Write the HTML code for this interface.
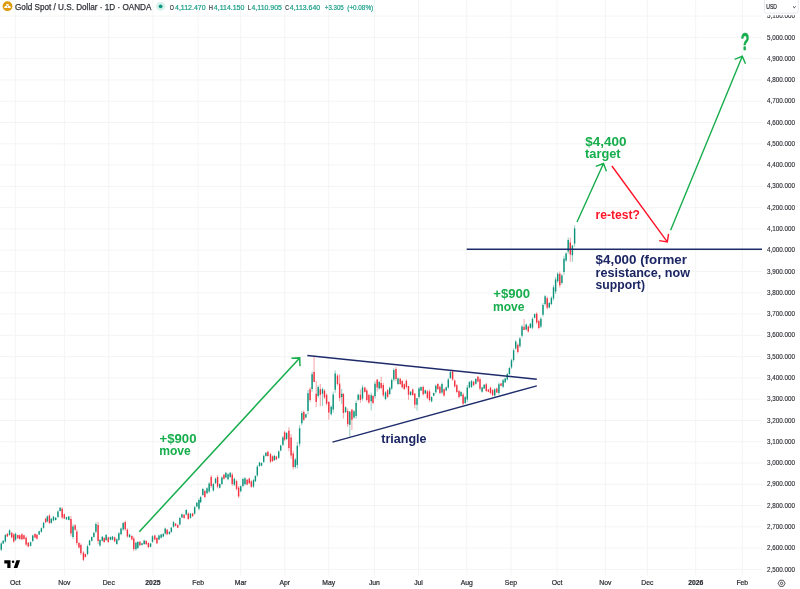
<!DOCTYPE html>
<html><head><meta charset="utf-8"><title>Gold Spot / U.S. Dollar</title>
<style>
html,body{margin:0;padding:0;background:#fff}
svg{display:block;font-family:"Liberation Sans",sans-serif}
</style></head><body>
<svg width="800" height="589" viewBox="0 0 800 589">
<rect width="800" height="589" fill="#fff"/>
<g stroke="#f3f5f4" stroke-width="1" fill="none">
<path d="M15.25 0V575.5"/>
<path d="M64.40 0V575.5"/>
<path d="M108.75 0V575.5"/>
<path d="M152.90 0V575.5"/>
<path d="M198.10 0V575.5"/>
<path d="M240.60 0V575.5"/>
<path d="M284.80 0V575.5"/>
<path d="M328.75 0V575.5"/>
<path d="M374.40 0V575.5"/>
<path d="M418.50 0V575.5"/>
<path d="M466.80 0V575.5"/>
<path d="M510.90 0V575.5"/>
<path d="M557.10 0V575.5"/>
<path d="M605.40 0V575.5"/>
<path d="M647.40 0V575.5"/>
<path d="M695.70 0V575.5"/>
<path d="M742.30 0V575.5"/>
<path d="M0 569.40H762"/>
<path d="M0 548.12H762"/>
<path d="M0 526.84H762"/>
<path d="M0 505.56H762"/>
<path d="M0 484.28H762"/>
<path d="M0 463.00H762"/>
<path d="M0 441.72H762"/>
<path d="M0 420.44H762"/>
<path d="M0 399.16H762"/>
<path d="M0 377.88H762"/>
<path d="M0 356.60H762"/>
<path d="M0 335.32H762"/>
<path d="M0 314.04H762"/>
<path d="M0 292.76H762"/>
<path d="M0 271.48H762"/>
<path d="M0 250.20H762"/>
<path d="M0 228.92H762"/>
<path d="M0 207.64H762"/>
<path d="M0 186.36H762"/>
<path d="M0 165.08H762"/>
<path d="M0 143.80H762"/>
<path d="M0 122.52H762"/>
<path d="M0 101.24H762"/>
<path d="M0 79.96H762"/>
<path d="M0 58.68H762"/>
<path d="M0 37.40H762"/>
<path d="M0 16.12H762"/>
</g>
<g id="candles" fill="none">
<path d="M1.27 542.1V551.1" stroke="#0c937b" stroke-width="0.9" opacity="0.5"/>
<path d="M1.27 543.4V549.8" stroke="#0c937b" stroke-width="1.4"/>
<path d="M3.18 540.2V544.0" stroke="#0c937b" stroke-width="0.9" opacity="0.5"/>
<path d="M3.18 540.8V543.5" stroke="#0c937b" stroke-width="1.4"/>
<path d="M5.35 533.9V542.8" stroke="#0c937b" stroke-width="0.9" opacity="0.5"/>
<path d="M5.35 535.1V541.5" stroke="#0c937b" stroke-width="1.4"/>
<path d="M7.39 533.2V537.0" stroke="#f2303f" stroke-width="0.9" opacity="0.5"/>
<path d="M7.39 533.8V536.5" stroke="#f2303f" stroke-width="1.4"/>
<path d="M9.55 529.4V535.8" stroke="#0c937b" stroke-width="0.9" opacity="0.5"/>
<path d="M9.55 530.3V534.9" stroke="#0c937b" stroke-width="1.4"/>
<path d="M11.72 531.9V538.3" stroke="#f2303f" stroke-width="0.9" opacity="0.5"/>
<path d="M11.72 532.8V537.4" stroke="#f2303f" stroke-width="1.4"/>
<path d="M13.76 533.2V542.8" stroke="#f2303f" stroke-width="0.9" opacity="0.5"/>
<path d="M13.76 534.6V541.4" stroke="#f2303f" stroke-width="1.4"/>
<path d="M15.54 532.6V540.9" stroke="#0c937b" stroke-width="0.9" opacity="0.5"/>
<path d="M15.54 533.7V539.7" stroke="#0c937b" stroke-width="1.4"/>
<path d="M17.83 534.5V538.9" stroke="#f2303f" stroke-width="0.9" opacity="0.5"/>
<path d="M17.83 535.1V538.3" stroke="#f2303f" stroke-width="1.4"/>
<path d="M19.75 534.5V539.6" stroke="#f2303f" stroke-width="0.9" opacity="0.5"/>
<path d="M19.75 535.2V538.9" stroke="#f2303f" stroke-width="1.4"/>
<path d="M21.91 533.2V540.2" stroke="#f2303f" stroke-width="0.9" opacity="0.5"/>
<path d="M21.91 534.2V539.2" stroke="#f2303f" stroke-width="1.4"/>
<path d="M23.95 534.5V539.6" stroke="#f2303f" stroke-width="0.9" opacity="0.5"/>
<path d="M23.95 535.2V538.9" stroke="#f2303f" stroke-width="1.4"/>
<path d="M26.11 536.4V546.0" stroke="#f2303f" stroke-width="0.9" opacity="0.5"/>
<path d="M26.11 537.7V544.6" stroke="#f2303f" stroke-width="1.4"/>
<path d="M28.28 542.1V547.2" stroke="#f2303f" stroke-width="0.9" opacity="0.5"/>
<path d="M28.28 542.8V546.5" stroke="#f2303f" stroke-width="1.4"/>
<path d="M30.57 541.5V546.6" stroke="#0c937b" stroke-width="0.9" opacity="0.5"/>
<path d="M30.57 542.2V545.9" stroke="#0c937b" stroke-width="1.4"/>
<path d="M32.74 534.5V542.1" stroke="#0c937b" stroke-width="0.9" opacity="0.5"/>
<path d="M32.74 535.6V541.1" stroke="#0c937b" stroke-width="1.4"/>
<path d="M35.03 533.2V538.3" stroke="#f2303f" stroke-width="0.9" opacity="0.5"/>
<path d="M35.03 533.9V537.6" stroke="#f2303f" stroke-width="1.4"/>
<path d="M36.94 533.9V539.6" stroke="#f2303f" stroke-width="0.9" opacity="0.5"/>
<path d="M36.94 534.7V538.8" stroke="#f2303f" stroke-width="1.4"/>
<path d="M39.11 530.7V535.1" stroke="#0c937b" stroke-width="0.9" opacity="0.5"/>
<path d="M39.11 531.3V534.5" stroke="#0c937b" stroke-width="1.4"/>
<path d="M41.40 527.5V532.6" stroke="#0c937b" stroke-width="0.9" opacity="0.5"/>
<path d="M41.40 528.2V531.9" stroke="#0c937b" stroke-width="1.4"/>
<path d="M43.57 521.8V528.8" stroke="#0c937b" stroke-width="0.9" opacity="0.5"/>
<path d="M43.57 522.7V527.8" stroke="#0c937b" stroke-width="1.4"/>
<path d="M45.61 517.9V523.0" stroke="#f2303f" stroke-width="0.9" opacity="0.5"/>
<path d="M45.61 518.6V522.3" stroke="#f2303f" stroke-width="1.4"/>
<path d="M47.39 515.4V522.4" stroke="#0c937b" stroke-width="0.9" opacity="0.5"/>
<path d="M47.39 516.4V521.4" stroke="#0c937b" stroke-width="1.4"/>
<path d="M49.43 514.1V524.3" stroke="#f2303f" stroke-width="0.9" opacity="0.5"/>
<path d="M49.43 515.5V522.9" stroke="#f2303f" stroke-width="1.4"/>
<path d="M51.34 517.9V523.7" stroke="#0c937b" stroke-width="0.9" opacity="0.5"/>
<path d="M51.34 518.7V522.9" stroke="#0c937b" stroke-width="1.4"/>
<path d="M53.50 516.0V521.1" stroke="#0c937b" stroke-width="0.9" opacity="0.5"/>
<path d="M53.50 516.7V520.4" stroke="#0c937b" stroke-width="1.4"/>
<path d="M55.67 517.3V520.5" stroke="#0c937b" stroke-width="0.9" opacity="0.5"/>
<path d="M55.67 517.7V520.0" stroke="#0c937b" stroke-width="1.4"/>
<path d="M57.96 510.3V517.9" stroke="#0c937b" stroke-width="0.9" opacity="0.5"/>
<path d="M57.96 511.4V516.9" stroke="#0c937b" stroke-width="1.4"/>
<path d="M60.13 507.1V511.6" stroke="#0c937b" stroke-width="0.9" opacity="0.5"/>
<path d="M60.13 507.7V510.9" stroke="#0c937b" stroke-width="1.4"/>
<path d="M62.17 507.1V519.2" stroke="#f2303f" stroke-width="0.9" opacity="0.5"/>
<path d="M62.17 508.8V517.5" stroke="#f2303f" stroke-width="1.4"/>
<path d="M64.33 513.5V519.2" stroke="#f2303f" stroke-width="0.9" opacity="0.5"/>
<path d="M64.33 514.3V518.4" stroke="#f2303f" stroke-width="1.4"/>
<path d="M66.50 516.7V519.8" stroke="#0c937b" stroke-width="0.9" opacity="0.5"/>
<path d="M66.50 517.1V519.4" stroke="#0c937b" stroke-width="1.4"/>
<path d="M68.79 516.0V520.5" stroke="#0c937b" stroke-width="0.9" opacity="0.5"/>
<path d="M68.79 516.6V519.9" stroke="#0c937b" stroke-width="1.4"/>
<path d="M70.96 516.0V536.4" stroke="#f2303f" stroke-width="0.9" opacity="0.5"/>
<path d="M70.96 518.9V533.5" stroke="#f2303f" stroke-width="1.4"/>
<path d="M72.99 524.3V538.9" stroke="#0c937b" stroke-width="0.9" opacity="0.5"/>
<path d="M72.99 526.4V536.9" stroke="#0c937b" stroke-width="1.4"/>
<path d="M75.16 524.3V530.7" stroke="#f2303f" stroke-width="0.9" opacity="0.5"/>
<path d="M75.16 525.2V529.8" stroke="#f2303f" stroke-width="1.4"/>
<path d="M76.82 529.4V545.3" stroke="#f2303f" stroke-width="0.9" opacity="0.5"/>
<path d="M76.82 531.6V543.1" stroke="#f2303f" stroke-width="1.4"/>
<path d="M78.98 542.1V548.5" stroke="#f2303f" stroke-width="0.9" opacity="0.5"/>
<path d="M78.98 543.0V547.6" stroke="#f2303f" stroke-width="1.4"/>
<path d="M80.89 543.4V554.9" stroke="#f2303f" stroke-width="0.9" opacity="0.5"/>
<path d="M80.89 545.0V553.3" stroke="#f2303f" stroke-width="1.4"/>
<path d="M83.44 551.1V561.2" stroke="#f2303f" stroke-width="0.9" opacity="0.5"/>
<path d="M83.44 552.5V559.8" stroke="#f2303f" stroke-width="1.4"/>
<path d="M85.35 553.6V557.4" stroke="#f2303f" stroke-width="0.9" opacity="0.5"/>
<path d="M85.35 554.1V556.9" stroke="#f2303f" stroke-width="1.4"/>
<path d="M87.52 544.7V555.5" stroke="#0c937b" stroke-width="0.9" opacity="0.5"/>
<path d="M87.52 546.2V554.0" stroke="#0c937b" stroke-width="1.4"/>
<path d="M89.55 539.6V546.0" stroke="#0c937b" stroke-width="0.9" opacity="0.5"/>
<path d="M89.55 540.5V545.1" stroke="#0c937b" stroke-width="1.4"/>
<path d="M91.72 536.4V541.5" stroke="#0c937b" stroke-width="0.9" opacity="0.5"/>
<path d="M91.72 537.1V540.8" stroke="#0c937b" stroke-width="1.4"/>
<path d="M93.89 531.9V537.7" stroke="#0c937b" stroke-width="0.9" opacity="0.5"/>
<path d="M93.89 532.7V536.9" stroke="#0c937b" stroke-width="1.4"/>
<path d="M95.92 522.4V533.2" stroke="#0c937b" stroke-width="0.9" opacity="0.5"/>
<path d="M95.92 523.9V531.7" stroke="#0c937b" stroke-width="1.4"/>
<path d="M98.09 521.8V544.0" stroke="#f2303f" stroke-width="0.9" opacity="0.5"/>
<path d="M98.09 524.9V540.9" stroke="#f2303f" stroke-width="1.4"/>
<path d="M100.00 538.9V546.6" stroke="#0c937b" stroke-width="0.9" opacity="0.5"/>
<path d="M100.00 540.0V545.5" stroke="#0c937b" stroke-width="1.4"/>
<path d="M102.29 535.9V541.6" stroke="#0c937b" stroke-width="0.9" opacity="0.5"/>
<path d="M102.29 536.7V540.8" stroke="#0c937b" stroke-width="1.4"/>
<path d="M104.20 537.1V542.9" stroke="#f2303f" stroke-width="0.9" opacity="0.5"/>
<path d="M104.20 537.9V542.1" stroke="#f2303f" stroke-width="1.4"/>
<path d="M106.11 533.9V541.0" stroke="#0c937b" stroke-width="0.9" opacity="0.5"/>
<path d="M106.11 534.9V540.0" stroke="#0c937b" stroke-width="1.4"/>
<path d="M108.28 536.5V542.9" stroke="#f2303f" stroke-width="0.9" opacity="0.5"/>
<path d="M108.28 537.4V542.0" stroke="#f2303f" stroke-width="1.4"/>
<path d="M110.45 536.5V540.3" stroke="#0c937b" stroke-width="0.9" opacity="0.5"/>
<path d="M110.45 537.0V539.8" stroke="#0c937b" stroke-width="1.4"/>
<path d="M112.48 535.9V540.3" stroke="#0c937b" stroke-width="0.9" opacity="0.5"/>
<path d="M112.48 536.5V539.7" stroke="#0c937b" stroke-width="1.4"/>
<path d="M114.65 536.5V542.2" stroke="#f2303f" stroke-width="0.9" opacity="0.5"/>
<path d="M114.65 537.3V541.4" stroke="#f2303f" stroke-width="1.4"/>
<path d="M116.82 538.4V544.8" stroke="#0c937b" stroke-width="0.9" opacity="0.5"/>
<path d="M116.82 539.3V543.9" stroke="#0c937b" stroke-width="1.4"/>
<path d="M118.85 532.0V541.0" stroke="#0c937b" stroke-width="0.9" opacity="0.5"/>
<path d="M118.85 533.3V539.7" stroke="#0c937b" stroke-width="1.4"/>
<path d="M121.02 527.6V535.2" stroke="#0c937b" stroke-width="0.9" opacity="0.5"/>
<path d="M121.02 528.6V534.2" stroke="#0c937b" stroke-width="1.4"/>
<path d="M123.18 521.8V530.8" stroke="#0c937b" stroke-width="0.9" opacity="0.5"/>
<path d="M123.18 523.1V529.5" stroke="#0c937b" stroke-width="1.4"/>
<path d="M125.22 520.6V530.8" stroke="#f2303f" stroke-width="0.9" opacity="0.5"/>
<path d="M125.22 522.0V529.3" stroke="#f2303f" stroke-width="1.4"/>
<path d="M127.39 528.2V537.8" stroke="#f2303f" stroke-width="0.9" opacity="0.5"/>
<path d="M127.39 529.6V536.4" stroke="#f2303f" stroke-width="1.4"/>
<path d="M129.55 533.9V537.8" stroke="#0c937b" stroke-width="0.9" opacity="0.5"/>
<path d="M129.55 534.5V537.2" stroke="#0c937b" stroke-width="1.4"/>
<path d="M131.85 535.2V540.3" stroke="#f2303f" stroke-width="0.9" opacity="0.5"/>
<path d="M131.85 535.9V539.6" stroke="#f2303f" stroke-width="1.4"/>
<path d="M133.76 536.5V551.1" stroke="#f2303f" stroke-width="0.9" opacity="0.5"/>
<path d="M133.76 538.5V549.1" stroke="#f2303f" stroke-width="1.4"/>
<path d="M135.92 541.6V550.5" stroke="#0c937b" stroke-width="0.9" opacity="0.5"/>
<path d="M135.92 542.8V549.3" stroke="#0c937b" stroke-width="1.4"/>
<path d="M137.83 541.0V549.2" stroke="#0c937b" stroke-width="0.9" opacity="0.5"/>
<path d="M137.83 542.1V548.1" stroke="#0c937b" stroke-width="1.4"/>
<path d="M139.87 541.0V546.1" stroke="#f2303f" stroke-width="0.9" opacity="0.5"/>
<path d="M139.87 541.7V545.3" stroke="#f2303f" stroke-width="1.4"/>
<path d="M142.04 542.9V545.4" stroke="#0c937b" stroke-width="0.9" opacity="0.5"/>
<path d="M142.04 543.2V545.1" stroke="#0c937b" stroke-width="1.4"/>
<path d="M144.20 539.7V544.8" stroke="#0c937b" stroke-width="0.9" opacity="0.5"/>
<path d="M144.20 540.4V544.1" stroke="#0c937b" stroke-width="1.4"/>
<path d="M146.24 540.3V544.8" stroke="#f2303f" stroke-width="0.9" opacity="0.5"/>
<path d="M146.24 540.9V544.2" stroke="#f2303f" stroke-width="1.4"/>
<path d="M148.41 542.2V548.0" stroke="#f2303f" stroke-width="0.9" opacity="0.5"/>
<path d="M148.41 543.0V547.2" stroke="#f2303f" stroke-width="1.4"/>
<path d="M150.57 542.9V547.3" stroke="#0c937b" stroke-width="0.9" opacity="0.5"/>
<path d="M150.57 543.5V546.7" stroke="#0c937b" stroke-width="1.4"/>
<path d="M152.48 535.2V542.9" stroke="#0c937b" stroke-width="0.9" opacity="0.5"/>
<path d="M152.48 536.3V541.8" stroke="#0c937b" stroke-width="1.4"/>
<path d="M154.78 534.6V540.3" stroke="#f2303f" stroke-width="0.9" opacity="0.5"/>
<path d="M154.78 535.4V539.5" stroke="#f2303f" stroke-width="1.4"/>
<path d="M156.94 537.1V544.1" stroke="#f2303f" stroke-width="0.9" opacity="0.5"/>
<path d="M156.94 538.1V543.2" stroke="#f2303f" stroke-width="1.4"/>
<path d="M158.98 534.6V540.3" stroke="#0c937b" stroke-width="0.9" opacity="0.5"/>
<path d="M158.98 535.4V539.5" stroke="#0c937b" stroke-width="1.4"/>
<path d="M161.15 533.9V538.4" stroke="#0c937b" stroke-width="0.9" opacity="0.5"/>
<path d="M161.15 534.6V537.8" stroke="#0c937b" stroke-width="1.4"/>
<path d="M163.31 533.3V537.1" stroke="#0c937b" stroke-width="0.9" opacity="0.5"/>
<path d="M163.31 533.8V536.6" stroke="#0c937b" stroke-width="1.4"/>
<path d="M165.22 527.6V534.6" stroke="#0c937b" stroke-width="0.9" opacity="0.5"/>
<path d="M165.22 528.6V533.6" stroke="#0c937b" stroke-width="1.4"/>
<path d="M167.13 528.9V535.2" stroke="#f2303f" stroke-width="0.9" opacity="0.5"/>
<path d="M167.13 529.7V534.3" stroke="#f2303f" stroke-width="1.4"/>
<path d="M169.43 531.4V534.6" stroke="#0c937b" stroke-width="0.9" opacity="0.5"/>
<path d="M169.43 531.8V534.1" stroke="#0c937b" stroke-width="1.4"/>
<path d="M171.34 526.9V532.7" stroke="#0c937b" stroke-width="0.9" opacity="0.5"/>
<path d="M171.34 527.7V531.9" stroke="#0c937b" stroke-width="1.4"/>
<path d="M173.50 521.2V527.6" stroke="#0c937b" stroke-width="0.9" opacity="0.5"/>
<path d="M173.50 522.1V526.7" stroke="#0c937b" stroke-width="1.4"/>
<path d="M175.54 523.1V526.3" stroke="#f2303f" stroke-width="0.9" opacity="0.5"/>
<path d="M175.54 523.6V525.9" stroke="#f2303f" stroke-width="1.4"/>
<path d="M177.71 524.4V528.2" stroke="#f2303f" stroke-width="0.9" opacity="0.5"/>
<path d="M177.71 524.9V527.7" stroke="#f2303f" stroke-width="1.4"/>
<path d="M179.87 516.8V525.7" stroke="#0c937b" stroke-width="0.9" opacity="0.5"/>
<path d="M179.87 518.0V524.4" stroke="#0c937b" stroke-width="1.4"/>
<path d="M181.91 513.6V518.0" stroke="#0c937b" stroke-width="0.9" opacity="0.5"/>
<path d="M181.91 514.2V517.4" stroke="#0c937b" stroke-width="1.4"/>
<path d="M184.08 514.2V518.7" stroke="#f2303f" stroke-width="0.9" opacity="0.5"/>
<path d="M184.08 514.8V518.0" stroke="#f2303f" stroke-width="1.4"/>
<path d="M186.24 509.1V515.5" stroke="#0c937b" stroke-width="0.9" opacity="0.5"/>
<path d="M186.24 510.0V514.6" stroke="#0c937b" stroke-width="1.4"/>
<path d="M188.28 512.3V519.9" stroke="#f2303f" stroke-width="0.9" opacity="0.5"/>
<path d="M188.28 513.4V518.9" stroke="#f2303f" stroke-width="1.4"/>
<path d="M190.45 512.9V518.7" stroke="#0c937b" stroke-width="0.9" opacity="0.5"/>
<path d="M190.45 513.7V517.9" stroke="#0c937b" stroke-width="1.4"/>
<path d="M192.61 512.9V516.8" stroke="#f2303f" stroke-width="0.9" opacity="0.5"/>
<path d="M192.61 513.5V516.2" stroke="#f2303f" stroke-width="1.4"/>
<path d="M194.65 505.9V514.8" stroke="#0c937b" stroke-width="0.9" opacity="0.5"/>
<path d="M194.65 507.2V513.6" stroke="#0c937b" stroke-width="1.4"/>
<path d="M196.82 502.1V507.2" stroke="#0c937b" stroke-width="0.9" opacity="0.5"/>
<path d="M196.82 502.8V506.5" stroke="#0c937b" stroke-width="1.4"/>
<path d="M198.98 498.3V510.4" stroke="#0c937b" stroke-width="0.9" opacity="0.5"/>
<path d="M198.98 500.0V508.7" stroke="#0c937b" stroke-width="1.4"/>
<path d="M200.64 496.1V503.2" stroke="#0c937b" stroke-width="0.9" opacity="0.5"/>
<path d="M200.64 497.1V502.2" stroke="#0c937b" stroke-width="1.4"/>
<path d="M202.80 487.9V496.1" stroke="#0c937b" stroke-width="0.9" opacity="0.5"/>
<path d="M202.80 489.0V495.0" stroke="#0c937b" stroke-width="1.4"/>
<path d="M204.84 489.8V498.1" stroke="#f2303f" stroke-width="0.9" opacity="0.5"/>
<path d="M204.84 490.9V496.9" stroke="#f2303f" stroke-width="1.4"/>
<path d="M207.01 487.2V494.2" stroke="#0c937b" stroke-width="0.9" opacity="0.5"/>
<path d="M207.01 488.2V493.3" stroke="#0c937b" stroke-width="1.4"/>
<path d="M209.17 482.1V493.0" stroke="#0c937b" stroke-width="0.9" opacity="0.5"/>
<path d="M209.17 483.6V491.4" stroke="#0c937b" stroke-width="1.4"/>
<path d="M211.21 475.1V487.9" stroke="#f2303f" stroke-width="0.9" opacity="0.5"/>
<path d="M211.21 476.9V486.1" stroke="#f2303f" stroke-width="1.4"/>
<path d="M213.38 482.8V491.7" stroke="#0c937b" stroke-width="0.9" opacity="0.5"/>
<path d="M213.38 484.0V490.4" stroke="#0c937b" stroke-width="1.4"/>
<path d="M215.54 477.7V484.0" stroke="#0c937b" stroke-width="0.9" opacity="0.5"/>
<path d="M215.54 478.6V483.2" stroke="#0c937b" stroke-width="1.4"/>
<path d="M217.58 475.1V488.5" stroke="#f2303f" stroke-width="0.9" opacity="0.5"/>
<path d="M217.58 477.0V486.6" stroke="#f2303f" stroke-width="1.4"/>
<path d="M219.75 483.4V488.5" stroke="#0c937b" stroke-width="0.9" opacity="0.5"/>
<path d="M219.75 484.1V487.8" stroke="#0c937b" stroke-width="1.4"/>
<path d="M221.91 476.4V485.3" stroke="#0c937b" stroke-width="0.9" opacity="0.5"/>
<path d="M221.91 477.6V484.1" stroke="#0c937b" stroke-width="1.4"/>
<path d="M223.95 473.9V479.6" stroke="#f2303f" stroke-width="0.9" opacity="0.5"/>
<path d="M223.95 474.7V478.8" stroke="#f2303f" stroke-width="1.4"/>
<path d="M225.86 471.9V478.3" stroke="#0c937b" stroke-width="0.9" opacity="0.5"/>
<path d="M225.86 472.8V477.4" stroke="#0c937b" stroke-width="1.4"/>
<path d="M228.03 473.2V480.2" stroke="#0c937b" stroke-width="0.9" opacity="0.5"/>
<path d="M228.03 474.2V479.2" stroke="#0c937b" stroke-width="1.4"/>
<path d="M230.19 471.9V477.7" stroke="#0c937b" stroke-width="0.9" opacity="0.5"/>
<path d="M230.19 472.7V476.9" stroke="#0c937b" stroke-width="1.4"/>
<path d="M232.23 472.6V486.0" stroke="#f2303f" stroke-width="0.9" opacity="0.5"/>
<path d="M232.23 474.5V484.1" stroke="#f2303f" stroke-width="1.4"/>
<path d="M234.39 477.7V486.0" stroke="#0c937b" stroke-width="0.9" opacity="0.5"/>
<path d="M234.39 478.8V484.8" stroke="#0c937b" stroke-width="1.4"/>
<path d="M236.56 479.6V490.4" stroke="#f2303f" stroke-width="0.9" opacity="0.5"/>
<path d="M236.56 481.1V488.9" stroke="#f2303f" stroke-width="1.4"/>
<path d="M238.60 486.0V498.1" stroke="#f2303f" stroke-width="0.9" opacity="0.5"/>
<path d="M238.60 487.6V496.4" stroke="#f2303f" stroke-width="1.4"/>
<path d="M240.76 485.3V492.3" stroke="#0c937b" stroke-width="0.9" opacity="0.5"/>
<path d="M240.76 486.3V491.3" stroke="#0c937b" stroke-width="1.4"/>
<path d="M242.93 477.7V487.2" stroke="#0c937b" stroke-width="0.9" opacity="0.5"/>
<path d="M242.93 479.0V485.9" stroke="#0c937b" stroke-width="1.4"/>
<path d="M244.97 477.0V485.3" stroke="#0c937b" stroke-width="0.9" opacity="0.5"/>
<path d="M244.97 478.2V484.2" stroke="#0c937b" stroke-width="1.4"/>
<path d="M247.13 478.9V485.3" stroke="#f2303f" stroke-width="0.9" opacity="0.5"/>
<path d="M247.13 479.8V484.4" stroke="#f2303f" stroke-width="1.4"/>
<path d="M249.30 477.7V484.0" stroke="#f2303f" stroke-width="0.9" opacity="0.5"/>
<path d="M249.30 478.6V483.2" stroke="#f2303f" stroke-width="1.4"/>
<path d="M251.34 480.2V487.9" stroke="#f2303f" stroke-width="0.9" opacity="0.5"/>
<path d="M251.34 481.3V486.8" stroke="#f2303f" stroke-width="1.4"/>
<path d="M253.50 478.9V487.9" stroke="#0c937b" stroke-width="0.9" opacity="0.5"/>
<path d="M253.50 480.2V486.6" stroke="#0c937b" stroke-width="1.4"/>
<path d="M255.41 475.1V482.1" stroke="#0c937b" stroke-width="0.9" opacity="0.5"/>
<path d="M255.41 476.1V481.2" stroke="#0c937b" stroke-width="1.4"/>
<path d="M257.32 464.9V477.0" stroke="#0c937b" stroke-width="0.9" opacity="0.5"/>
<path d="M257.32 466.6V475.3" stroke="#0c937b" stroke-width="1.4"/>
<path d="M259.49 461.8V466.8" stroke="#0c937b" stroke-width="0.9" opacity="0.5"/>
<path d="M259.49 462.5V466.1" stroke="#0c937b" stroke-width="1.4"/>
<path d="M261.53 462.4V466.2" stroke="#0c937b" stroke-width="0.9" opacity="0.5"/>
<path d="M261.53 462.9V465.7" stroke="#0c937b" stroke-width="1.4"/>
<path d="M263.69 454.7V463.0" stroke="#0c937b" stroke-width="0.9" opacity="0.5"/>
<path d="M263.69 455.9V461.9" stroke="#0c937b" stroke-width="1.4"/>
<path d="M265.86 452.2V456.7" stroke="#0c937b" stroke-width="0.9" opacity="0.5"/>
<path d="M265.86 452.8V456.0" stroke="#0c937b" stroke-width="1.4"/>
<path d="M267.90 450.9V456.7" stroke="#f2303f" stroke-width="0.9" opacity="0.5"/>
<path d="M267.90 451.7V455.9" stroke="#f2303f" stroke-width="1.4"/>
<path d="M270.50 452.8V463.0" stroke="#f2303f" stroke-width="0.9" opacity="0.5"/>
<path d="M270.50 454.2V461.6" stroke="#f2303f" stroke-width="1.4"/>
<path d="M272.50 455.4V462.0" stroke="#f2303f" stroke-width="0.9" opacity="0.5"/>
<path d="M272.50 456.3V461.1" stroke="#f2303f" stroke-width="1.4"/>
<path d="M274.40 454.9V461.0" stroke="#0c937b" stroke-width="0.9" opacity="0.5"/>
<path d="M274.40 455.8V460.1" stroke="#0c937b" stroke-width="1.4"/>
<path d="M276.40 455.9V460.0" stroke="#f2303f" stroke-width="0.9" opacity="0.5"/>
<path d="M276.40 456.5V459.4" stroke="#f2303f" stroke-width="1.4"/>
<path d="M278.70 450.3V458.9" stroke="#0c937b" stroke-width="0.9" opacity="0.5"/>
<path d="M278.70 451.5V457.7" stroke="#0c937b" stroke-width="1.4"/>
<path d="M280.70 444.7V451.3" stroke="#0c937b" stroke-width="0.9" opacity="0.5"/>
<path d="M280.70 445.6V450.4" stroke="#0c937b" stroke-width="1.4"/>
<path d="M282.90 436.0V446.2" stroke="#0c937b" stroke-width="0.9" opacity="0.5"/>
<path d="M282.90 437.4V444.8" stroke="#0c937b" stroke-width="1.4"/>
<path d="M284.60 430.9V441.1" stroke="#f2303f" stroke-width="0.9" opacity="0.5"/>
<path d="M284.60 432.3V439.7" stroke="#f2303f" stroke-width="1.4"/>
<path d="M286.60 431.9V440.1" stroke="#0c937b" stroke-width="0.9" opacity="0.5"/>
<path d="M286.60 433.0V439.0" stroke="#0c937b" stroke-width="1.4"/>
<path d="M288.90 427.3V451.3" stroke="#f2303f" stroke-width="0.9" opacity="0.5"/>
<path d="M288.90 430.7V447.9" stroke="#f2303f" stroke-width="1.4"/>
<path d="M291.10 434.0V458.9" stroke="#f2303f" stroke-width="0.9" opacity="0.5"/>
<path d="M291.10 437.5V455.4" stroke="#f2303f" stroke-width="1.4"/>
<path d="M293.20 450.8V469.6" stroke="#f2303f" stroke-width="0.9" opacity="0.5"/>
<path d="M293.20 453.4V467.0" stroke="#f2303f" stroke-width="1.4"/>
<path d="M295.30 457.9V468.6" stroke="#0c937b" stroke-width="0.9" opacity="0.5"/>
<path d="M295.30 459.4V467.1" stroke="#0c937b" stroke-width="1.4"/>
<path d="M297.30 442.1V468.6" stroke="#0c937b" stroke-width="0.9" opacity="0.5"/>
<path d="M297.30 445.8V464.9" stroke="#0c937b" stroke-width="1.4"/>
<path d="M299.60 425.3V446.7" stroke="#0c937b" stroke-width="0.9" opacity="0.5"/>
<path d="M299.60 428.3V443.7" stroke="#0c937b" stroke-width="1.4"/>
<path d="M301.80 411.0V425.3" stroke="#0c937b" stroke-width="0.9" opacity="0.5"/>
<path d="M301.80 413.0V423.3" stroke="#0c937b" stroke-width="1.4"/>
<path d="M303.80 410.5V421.2" stroke="#f2303f" stroke-width="0.9" opacity="0.5"/>
<path d="M303.80 412.0V419.7" stroke="#f2303f" stroke-width="1.4"/>
<path d="M305.90 413.6V418.2" stroke="#0c937b" stroke-width="0.9" opacity="0.5"/>
<path d="M305.90 414.2V417.6" stroke="#0c937b" stroke-width="1.4"/>
<path d="M308.00 389.8V414.6" stroke="#0c937b" stroke-width="0.9" opacity="0.5"/>
<path d="M308.00 393.3V411.1" stroke="#0c937b" stroke-width="1.4"/>
<path d="M310.10 387.2V402.0" stroke="#f2303f" stroke-width="0.9" opacity="0.5"/>
<path d="M310.10 389.3V399.9" stroke="#f2303f" stroke-width="1.4"/>
<path d="M312.10 371.4V391.8" stroke="#0c937b" stroke-width="0.9" opacity="0.5"/>
<path d="M312.10 374.3V388.9" stroke="#0c937b" stroke-width="1.4"/>
<path d="M314.10 356.6V382.1" stroke="#f2303f" stroke-width="0.9" opacity="0.5"/>
<path d="M314.10 371.9V382.1" stroke="#f2303f" stroke-width="1.4"/>
<path d="M316.20 381.0V406.9" stroke="#f2303f" stroke-width="0.9" opacity="0.5"/>
<path d="M316.20 393.8V402.0" stroke="#f2303f" stroke-width="1.4"/>
<path d="M318.20 385.2V397.9" stroke="#0c937b" stroke-width="0.9" opacity="0.5"/>
<path d="M318.20 387.0V396.1" stroke="#0c937b" stroke-width="1.4"/>
<path d="M320.30 384.0V406.4" stroke="#f2303f" stroke-width="0.9" opacity="0.5"/>
<path d="M320.30 389.2V394.8" stroke="#f2303f" stroke-width="1.4"/>
<path d="M322.50 387.7V405.9" stroke="#0c937b" stroke-width="0.9" opacity="0.5"/>
<path d="M322.50 389.2V393.8" stroke="#0c937b" stroke-width="1.4"/>
<path d="M324.50 389.2V398.9" stroke="#f2303f" stroke-width="0.9" opacity="0.5"/>
<path d="M324.50 390.6V397.5" stroke="#f2303f" stroke-width="1.4"/>
<path d="M326.60 393.2V405.4" stroke="#f2303f" stroke-width="0.9" opacity="0.5"/>
<path d="M326.60 394.9V403.7" stroke="#f2303f" stroke-width="1.4"/>
<path d="M328.80 401.8V419.7" stroke="#f2303f" stroke-width="0.9" opacity="0.5"/>
<path d="M328.80 401.8V412.5" stroke="#f2303f" stroke-width="1.4"/>
<path d="M331.20 405.4V415.6" stroke="#0c937b" stroke-width="0.9" opacity="0.5"/>
<path d="M331.20 406.8V414.2" stroke="#0c937b" stroke-width="1.4"/>
<path d="M333.20 391.6V412.5" stroke="#0c937b" stroke-width="0.9" opacity="0.5"/>
<path d="M333.20 394.5V409.6" stroke="#0c937b" stroke-width="1.4"/>
<path d="M335.20 370.4V392.8" stroke="#0c937b" stroke-width="0.9" opacity="0.5"/>
<path d="M335.20 373.5V389.7" stroke="#0c937b" stroke-width="1.4"/>
<path d="M337.50 374.0V385.7" stroke="#f2303f" stroke-width="0.9" opacity="0.5"/>
<path d="M337.50 375.6V384.1" stroke="#f2303f" stroke-width="1.4"/>
<path d="M339.60 374.5V401.3" stroke="#f2303f" stroke-width="0.9" opacity="0.5"/>
<path d="M339.60 383.6V398.0" stroke="#f2303f" stroke-width="1.4"/>
<path d="M341.70 389.0V403.9" stroke="#0c937b" stroke-width="0.9" opacity="0.5"/>
<path d="M341.70 393.8V397.0" stroke="#0c937b" stroke-width="1.4"/>
<path d="M343.40 393.7V418.6" stroke="#f2303f" stroke-width="0.9" opacity="0.5"/>
<path d="M343.40 393.7V413.0" stroke="#f2303f" stroke-width="1.4"/>
<path d="M345.60 406.4V413.0" stroke="#0c937b" stroke-width="0.9" opacity="0.5"/>
<path d="M345.60 407.3V412.1" stroke="#0c937b" stroke-width="1.4"/>
<path d="M347.70 408.4V426.8" stroke="#f2303f" stroke-width="0.9" opacity="0.5"/>
<path d="M347.70 411.0V424.2" stroke="#f2303f" stroke-width="1.4"/>
<path d="M349.80 411.5V436.5" stroke="#0c937b" stroke-width="0.9" opacity="0.5"/>
<path d="M349.80 411.5V424.8" stroke="#0c937b" stroke-width="1.4"/>
<path d="M351.90 409.5V429.9" stroke="#f2303f" stroke-width="0.9" opacity="0.5"/>
<path d="M351.90 409.5V419.7" stroke="#f2303f" stroke-width="1.4"/>
<path d="M354.00 410.0V418.6" stroke="#0c937b" stroke-width="0.9" opacity="0.5"/>
<path d="M354.00 411.2V417.4" stroke="#0c937b" stroke-width="1.4"/>
<path d="M356.10 400.3V418.6" stroke="#0c937b" stroke-width="0.9" opacity="0.5"/>
<path d="M356.10 402.9V416.0" stroke="#0c937b" stroke-width="1.4"/>
<path d="M358.20 393.7V400.8" stroke="#0c937b" stroke-width="0.9" opacity="0.5"/>
<path d="M358.20 394.7V399.8" stroke="#0c937b" stroke-width="1.4"/>
<path d="M360.40 389.4V402.8" stroke="#f2303f" stroke-width="0.9" opacity="0.5"/>
<path d="M360.40 394.8V400.0" stroke="#f2303f" stroke-width="1.4"/>
<path d="M362.50 385.2V400.8" stroke="#0c937b" stroke-width="0.9" opacity="0.5"/>
<path d="M362.50 387.4V398.6" stroke="#0c937b" stroke-width="1.4"/>
<path d="M364.80 386.7V392.8" stroke="#f2303f" stroke-width="0.9" opacity="0.5"/>
<path d="M364.80 387.6V391.9" stroke="#f2303f" stroke-width="1.4"/>
<path d="M366.80 388.7V401.8" stroke="#f2303f" stroke-width="0.9" opacity="0.5"/>
<path d="M366.80 390.5V400.0" stroke="#f2303f" stroke-width="1.4"/>
<path d="M368.90 393.7V403.9" stroke="#f2303f" stroke-width="0.9" opacity="0.5"/>
<path d="M368.90 395.1V402.5" stroke="#f2303f" stroke-width="1.4"/>
<path d="M371.20 392.6V410.5" stroke="#0c937b" stroke-width="0.9" opacity="0.5"/>
<path d="M371.20 395.2V401.3" stroke="#0c937b" stroke-width="1.4"/>
<path d="M373.00 394.7V404.3" stroke="#f2303f" stroke-width="0.9" opacity="0.5"/>
<path d="M373.00 396.0V403.0" stroke="#f2303f" stroke-width="1.4"/>
<path d="M375.00 381.4V398.7" stroke="#0c937b" stroke-width="0.9" opacity="0.5"/>
<path d="M375.00 383.8V396.3" stroke="#0c937b" stroke-width="1.4"/>
<path d="M377.20 379.4V391.6" stroke="#f2303f" stroke-width="0.9" opacity="0.5"/>
<path d="M377.20 379.4V387.5" stroke="#f2303f" stroke-width="1.4"/>
<path d="M379.20 380.9V389.6" stroke="#0c937b" stroke-width="0.9" opacity="0.5"/>
<path d="M379.20 382.1V388.4" stroke="#0c937b" stroke-width="1.4"/>
<path d="M381.20 376.8V389.6" stroke="#f2303f" stroke-width="0.9" opacity="0.5"/>
<path d="M381.20 382.9V388.0" stroke="#f2303f" stroke-width="1.4"/>
<path d="M383.30 382.9V397.2" stroke="#f2303f" stroke-width="0.9" opacity="0.5"/>
<path d="M383.30 384.9V395.2" stroke="#f2303f" stroke-width="1.4"/>
<path d="M385.50 391.1V400.3" stroke="#0c937b" stroke-width="0.9" opacity="0.5"/>
<path d="M385.50 392.4V399.0" stroke="#0c937b" stroke-width="1.4"/>
<path d="M387.60 389.0V398.2" stroke="#f2303f" stroke-width="0.9" opacity="0.5"/>
<path d="M387.60 390.3V396.9" stroke="#f2303f" stroke-width="1.4"/>
<path d="M389.70 386.5V395.2" stroke="#0c937b" stroke-width="0.9" opacity="0.5"/>
<path d="M389.70 387.7V394.0" stroke="#0c937b" stroke-width="1.4"/>
<path d="M391.70 378.3V390.0" stroke="#0c937b" stroke-width="0.9" opacity="0.5"/>
<path d="M391.70 379.9V388.4" stroke="#0c937b" stroke-width="1.4"/>
<path d="M393.80 368.2V381.4" stroke="#0c937b" stroke-width="0.9" opacity="0.5"/>
<path d="M393.80 370.0V379.6" stroke="#0c937b" stroke-width="1.4"/>
<path d="M396.00 367.1V380.9" stroke="#f2303f" stroke-width="0.9" opacity="0.5"/>
<path d="M396.00 369.0V379.0" stroke="#f2303f" stroke-width="1.4"/>
<path d="M398.00 377.3V385.0" stroke="#0c937b" stroke-width="0.9" opacity="0.5"/>
<path d="M398.00 378.4V383.9" stroke="#0c937b" stroke-width="1.4"/>
<path d="M400.20 377.8V385.0" stroke="#f2303f" stroke-width="0.9" opacity="0.5"/>
<path d="M400.20 378.8V384.0" stroke="#f2303f" stroke-width="1.4"/>
<path d="M402.20 379.9V388.5" stroke="#f2303f" stroke-width="0.9" opacity="0.5"/>
<path d="M402.20 381.1V387.3" stroke="#f2303f" stroke-width="1.4"/>
<path d="M404.30 383.4V390.0" stroke="#f2303f" stroke-width="0.9" opacity="0.5"/>
<path d="M404.30 384.3V389.1" stroke="#f2303f" stroke-width="1.4"/>
<path d="M406.40 379.4V388.5" stroke="#f2303f" stroke-width="0.9" opacity="0.5"/>
<path d="M406.40 380.7V387.2" stroke="#f2303f" stroke-width="1.4"/>
<path d="M408.50 386.0V399.8" stroke="#f2303f" stroke-width="0.9" opacity="0.5"/>
<path d="M408.50 386.0V394.7" stroke="#f2303f" stroke-width="1.4"/>
<path d="M410.60 391.0V395.7" stroke="#0c937b" stroke-width="0.9" opacity="0.5"/>
<path d="M410.60 391.7V395.0" stroke="#0c937b" stroke-width="1.4"/>
<path d="M412.70 388.5V396.2" stroke="#f2303f" stroke-width="0.9" opacity="0.5"/>
<path d="M412.70 389.6V395.1" stroke="#f2303f" stroke-width="1.4"/>
<path d="M414.80 393.6V408.4" stroke="#f2303f" stroke-width="0.9" opacity="0.5"/>
<path d="M414.80 393.6V404.8" stroke="#f2303f" stroke-width="1.4"/>
<path d="M417.00 398.2V410.5" stroke="#0c937b" stroke-width="0.9" opacity="0.5"/>
<path d="M417.00 398.2V404.8" stroke="#0c937b" stroke-width="1.4"/>
<path d="M419.00 387.0V398.7" stroke="#0c937b" stroke-width="0.9" opacity="0.5"/>
<path d="M419.00 388.6V397.1" stroke="#0c937b" stroke-width="1.4"/>
<path d="M421.00 386.5V391.1" stroke="#0c937b" stroke-width="0.9" opacity="0.5"/>
<path d="M421.00 387.1V390.5" stroke="#0c937b" stroke-width="1.4"/>
<path d="M423.20 385.5V395.7" stroke="#f2303f" stroke-width="0.9" opacity="0.5"/>
<path d="M423.20 386.9V394.3" stroke="#f2303f" stroke-width="1.4"/>
<path d="M425.30 389.6V394.1" stroke="#0c937b" stroke-width="0.9" opacity="0.5"/>
<path d="M425.30 390.2V393.5" stroke="#0c937b" stroke-width="1.4"/>
<path d="M427.40 390.0V399.2" stroke="#f2303f" stroke-width="0.9" opacity="0.5"/>
<path d="M427.40 391.3V397.9" stroke="#f2303f" stroke-width="1.4"/>
<path d="M429.50 389.6V401.8" stroke="#f2303f" stroke-width="0.9" opacity="0.5"/>
<path d="M429.50 391.3V400.1" stroke="#f2303f" stroke-width="1.4"/>
<path d="M431.60 396.2V402.3" stroke="#0c937b" stroke-width="0.9" opacity="0.5"/>
<path d="M431.60 397.1V401.4" stroke="#0c937b" stroke-width="1.4"/>
<path d="M433.70 392.6V396.2" stroke="#0c937b" stroke-width="0.9" opacity="0.5"/>
<path d="M433.70 393.1V395.7" stroke="#0c937b" stroke-width="1.4"/>
<path d="M435.80 384.5V393.6" stroke="#0c937b" stroke-width="0.9" opacity="0.5"/>
<path d="M435.80 385.8V392.3" stroke="#0c937b" stroke-width="1.4"/>
<path d="M437.80 382.9V390.0" stroke="#f2303f" stroke-width="0.9" opacity="0.5"/>
<path d="M437.80 383.9V389.0" stroke="#f2303f" stroke-width="1.4"/>
<path d="M439.90 385.5V394.1" stroke="#f2303f" stroke-width="0.9" opacity="0.5"/>
<path d="M439.90 386.7V392.9" stroke="#f2303f" stroke-width="1.4"/>
<path d="M442.00 382.5V394.2" stroke="#0c937b" stroke-width="0.9" opacity="0.5"/>
<path d="M442.00 384.1V392.6" stroke="#0c937b" stroke-width="1.4"/>
<path d="M444.10 388.1V396.8" stroke="#f2303f" stroke-width="0.9" opacity="0.5"/>
<path d="M444.10 389.3V395.6" stroke="#f2303f" stroke-width="1.4"/>
<path d="M446.20 386.6V391.2" stroke="#0c937b" stroke-width="0.9" opacity="0.5"/>
<path d="M446.20 387.2V390.6" stroke="#0c937b" stroke-width="1.4"/>
<path d="M448.30 377.9V389.1" stroke="#0c937b" stroke-width="0.9" opacity="0.5"/>
<path d="M448.30 379.5V387.5" stroke="#0c937b" stroke-width="1.4"/>
<path d="M450.40 370.8V379.0" stroke="#0c937b" stroke-width="0.9" opacity="0.5"/>
<path d="M450.40 371.9V377.9" stroke="#0c937b" stroke-width="1.4"/>
<path d="M452.60 369.8V381.0" stroke="#f2303f" stroke-width="0.9" opacity="0.5"/>
<path d="M452.60 371.4V379.4" stroke="#f2303f" stroke-width="1.4"/>
<path d="M454.70 379.5V387.6" stroke="#f2303f" stroke-width="0.9" opacity="0.5"/>
<path d="M454.70 380.6V386.5" stroke="#f2303f" stroke-width="1.4"/>
<path d="M456.80 384.0V393.2" stroke="#f2303f" stroke-width="0.9" opacity="0.5"/>
<path d="M456.80 385.3V391.9" stroke="#f2303f" stroke-width="1.4"/>
<path d="M459.00 389.7V398.3" stroke="#f2303f" stroke-width="0.9" opacity="0.5"/>
<path d="M459.00 390.9V397.1" stroke="#f2303f" stroke-width="1.4"/>
<path d="M461.00 391.2V396.8" stroke="#0c937b" stroke-width="0.9" opacity="0.5"/>
<path d="M461.00 392.0V396.0" stroke="#0c937b" stroke-width="1.4"/>
<path d="M463.10 392.7V405.5" stroke="#f2303f" stroke-width="0.9" opacity="0.5"/>
<path d="M463.10 394.5V403.7" stroke="#f2303f" stroke-width="1.4"/>
<path d="M465.20 395.8V404.0" stroke="#0c937b" stroke-width="0.9" opacity="0.5"/>
<path d="M465.20 396.9V402.9" stroke="#0c937b" stroke-width="1.4"/>
<path d="M467.30 385.0V401.9" stroke="#0c937b" stroke-width="0.9" opacity="0.5"/>
<path d="M467.30 387.4V399.5" stroke="#0c937b" stroke-width="1.4"/>
<path d="M469.40 381.0V388.6" stroke="#0c937b" stroke-width="0.9" opacity="0.5"/>
<path d="M469.40 382.1V387.5" stroke="#0c937b" stroke-width="1.4"/>
<path d="M471.50 380.0V388.0" stroke="#0c937b" stroke-width="0.9" opacity="0.5"/>
<path d="M471.50 381.1V386.9" stroke="#0c937b" stroke-width="1.4"/>
<path d="M473.60 381.0V386.0" stroke="#f2303f" stroke-width="0.9" opacity="0.5"/>
<path d="M473.60 381.7V385.3" stroke="#f2303f" stroke-width="1.4"/>
<path d="M475.80 378.0V384.6" stroke="#0c937b" stroke-width="0.9" opacity="0.5"/>
<path d="M475.80 378.9V383.7" stroke="#0c937b" stroke-width="1.4"/>
<path d="M477.90 375.9V382.5" stroke="#f2303f" stroke-width="0.9" opacity="0.5"/>
<path d="M477.90 376.8V381.6" stroke="#f2303f" stroke-width="1.4"/>
<path d="M480.00 377.4V390.7" stroke="#f2303f" stroke-width="0.9" opacity="0.5"/>
<path d="M480.00 379.3V388.8" stroke="#f2303f" stroke-width="1.4"/>
<path d="M482.10 386.6V392.7" stroke="#0c937b" stroke-width="0.9" opacity="0.5"/>
<path d="M482.10 387.5V391.8" stroke="#0c937b" stroke-width="1.4"/>
<path d="M484.20 384.0V389.1" stroke="#0c937b" stroke-width="0.9" opacity="0.5"/>
<path d="M484.20 384.7V388.4" stroke="#0c937b" stroke-width="1.4"/>
<path d="M486.30 383.0V392.2" stroke="#f2303f" stroke-width="0.9" opacity="0.5"/>
<path d="M486.30 384.3V390.9" stroke="#f2303f" stroke-width="1.4"/>
<path d="M488.40 389.1V392.2" stroke="#f2303f" stroke-width="0.9" opacity="0.5"/>
<path d="M488.40 389.5V391.8" stroke="#f2303f" stroke-width="1.4"/>
<path d="M490.50 386.6V394.2" stroke="#f2303f" stroke-width="0.9" opacity="0.5"/>
<path d="M490.50 387.7V393.1" stroke="#f2303f" stroke-width="1.4"/>
<path d="M492.60 389.1V396.3" stroke="#f2303f" stroke-width="0.9" opacity="0.5"/>
<path d="M492.60 390.1V395.3" stroke="#f2303f" stroke-width="1.4"/>
<path d="M494.70 388.1V396.8" stroke="#0c937b" stroke-width="0.9" opacity="0.5"/>
<path d="M494.70 389.3V395.6" stroke="#0c937b" stroke-width="1.4"/>
<path d="M496.80 387.6V393.2" stroke="#f2303f" stroke-width="0.9" opacity="0.5"/>
<path d="M496.80 388.4V392.4" stroke="#f2303f" stroke-width="1.4"/>
<path d="M498.90 382.5V394.8" stroke="#0c937b" stroke-width="0.9" opacity="0.5"/>
<path d="M498.90 384.2V393.1" stroke="#0c937b" stroke-width="1.4"/>
<path d="M501.00 383.0V386.1" stroke="#f2303f" stroke-width="0.9" opacity="0.5"/>
<path d="M501.00 383.4V385.7" stroke="#f2303f" stroke-width="1.4"/>
<path d="M503.10 379.0V388.1" stroke="#0c937b" stroke-width="0.9" opacity="0.5"/>
<path d="M503.10 380.3V386.8" stroke="#0c937b" stroke-width="1.4"/>
<path d="M505.20 377.9V383.0" stroke="#0c937b" stroke-width="0.9" opacity="0.5"/>
<path d="M505.20 378.6V382.3" stroke="#0c937b" stroke-width="1.4"/>
<path d="M507.30 372.8V380.5" stroke="#0c937b" stroke-width="0.9" opacity="0.5"/>
<path d="M507.30 373.9V379.4" stroke="#0c937b" stroke-width="1.4"/>
<path d="M509.40 366.8V375.2" stroke="#0c937b" stroke-width="0.9" opacity="0.5"/>
<path d="M509.40 368.0V374.0" stroke="#0c937b" stroke-width="1.4"/>
<path d="M511.50 358.8V368.8" stroke="#0c937b" stroke-width="0.9" opacity="0.5"/>
<path d="M511.50 360.2V367.4" stroke="#0c937b" stroke-width="1.4"/>
<path d="M513.60 348.4V361.9" stroke="#0c937b" stroke-width="0.9" opacity="0.5"/>
<path d="M513.60 350.3V360.0" stroke="#0c937b" stroke-width="1.4"/>
<path d="M515.70 340.1V349.7" stroke="#0c937b" stroke-width="0.9" opacity="0.5"/>
<path d="M515.70 341.4V348.4" stroke="#0c937b" stroke-width="1.4"/>
<path d="M517.80 343.3V353.5" stroke="#f2303f" stroke-width="0.9" opacity="0.5"/>
<path d="M517.80 344.7V352.1" stroke="#f2303f" stroke-width="1.4"/>
<path d="M519.90 336.9V347.8" stroke="#0c937b" stroke-width="0.9" opacity="0.5"/>
<path d="M519.90 338.4V346.3" stroke="#0c937b" stroke-width="1.4"/>
<path d="M522.00 324.8V337.6" stroke="#0c937b" stroke-width="0.9" opacity="0.5"/>
<path d="M522.00 326.6V335.8" stroke="#0c937b" stroke-width="1.4"/>
<path d="M524.10 319.1V330.0" stroke="#f2303f" stroke-width="0.9" opacity="0.5"/>
<path d="M524.10 326.7V330.0" stroke="#f2303f" stroke-width="1.4"/>
<path d="M526.20 323.6V330.6" stroke="#0c937b" stroke-width="0.9" opacity="0.5"/>
<path d="M526.20 324.6V329.6" stroke="#0c937b" stroke-width="1.4"/>
<path d="M528.30 325.5V332.5" stroke="#f2303f" stroke-width="0.9" opacity="0.5"/>
<path d="M528.30 326.5V331.5" stroke="#f2303f" stroke-width="1.4"/>
<path d="M530.40 322.9V328.7" stroke="#0c937b" stroke-width="0.9" opacity="0.5"/>
<path d="M530.40 323.7V327.9" stroke="#0c937b" stroke-width="1.4"/>
<path d="M532.50 317.2V329.3" stroke="#0c937b" stroke-width="0.9" opacity="0.5"/>
<path d="M532.50 318.9V327.6" stroke="#0c937b" stroke-width="1.4"/>
<path d="M534.60 313.4V318.5" stroke="#0c937b" stroke-width="0.9" opacity="0.5"/>
<path d="M534.60 314.1V317.8" stroke="#0c937b" stroke-width="1.4"/>
<path d="M536.70 312.1V324.2" stroke="#f2303f" stroke-width="0.9" opacity="0.5"/>
<path d="M536.70 313.8V322.5" stroke="#f2303f" stroke-width="1.4"/>
<path d="M538.80 319.7V329.3" stroke="#f2303f" stroke-width="0.9" opacity="0.5"/>
<path d="M538.80 321.0V328.0" stroke="#f2303f" stroke-width="1.4"/>
<path d="M540.90 317.2V328.0" stroke="#0c937b" stroke-width="0.9" opacity="0.5"/>
<path d="M540.90 318.7V326.5" stroke="#0c937b" stroke-width="1.4"/>
<path d="M543.00 303.1V316.6" stroke="#0c937b" stroke-width="0.9" opacity="0.5"/>
<path d="M543.00 305.0V314.7" stroke="#0c937b" stroke-width="1.4"/>
<path d="M545.10 294.8V305.5" stroke="#0c937b" stroke-width="0.9" opacity="0.5"/>
<path d="M545.10 296.3V304.0" stroke="#0c937b" stroke-width="1.4"/>
<path d="M547.20 296.5V309.5" stroke="#f2303f" stroke-width="0.9" opacity="0.5"/>
<path d="M547.20 298.3V307.7" stroke="#f2303f" stroke-width="1.4"/>
<path d="M549.30 302.0V308.4" stroke="#0c937b" stroke-width="0.9" opacity="0.5"/>
<path d="M549.30 302.9V307.5" stroke="#0c937b" stroke-width="1.4"/>
<path d="M551.40 296.5V305.3" stroke="#0c937b" stroke-width="0.9" opacity="0.5"/>
<path d="M551.40 297.7V304.1" stroke="#0c937b" stroke-width="1.4"/>
<path d="M553.50 285.2V300.5" stroke="#0c937b" stroke-width="0.9" opacity="0.5"/>
<path d="M553.50 287.3V298.4" stroke="#0c937b" stroke-width="1.4"/>
<path d="M555.60 277.0V294.0" stroke="#0c937b" stroke-width="0.9" opacity="0.5"/>
<path d="M555.60 279.4V291.6" stroke="#0c937b" stroke-width="1.4"/>
<path d="M557.70 272.3V282.7" stroke="#0c937b" stroke-width="0.9" opacity="0.5"/>
<path d="M557.70 273.8V281.2" stroke="#0c937b" stroke-width="1.4"/>
<path d="M559.80 271.5V287.6" stroke="#f2303f" stroke-width="0.9" opacity="0.5"/>
<path d="M559.80 273.8V285.3" stroke="#f2303f" stroke-width="1.4"/>
<path d="M561.90 273.9V284.4" stroke="#0c937b" stroke-width="0.9" opacity="0.5"/>
<path d="M561.90 275.4V282.9" stroke="#0c937b" stroke-width="1.4"/>
<path d="M564.00 256.1V274.7" stroke="#0c937b" stroke-width="0.9" opacity="0.5"/>
<path d="M564.00 258.7V272.1" stroke="#0c937b" stroke-width="1.4"/>
<path d="M566.10 252.1V261.8" stroke="#0c937b" stroke-width="0.9" opacity="0.5"/>
<path d="M566.10 253.5V260.4" stroke="#0c937b" stroke-width="1.4"/>
<path d="M568.20 237.6V253.7" stroke="#0c937b" stroke-width="0.9" opacity="0.5"/>
<path d="M568.20 239.9V251.4" stroke="#0c937b" stroke-width="1.4"/>
<path d="M570.30 237.6V261.8" stroke="#f2303f" stroke-width="0.9" opacity="0.5"/>
<path d="M570.30 242.4V254.5" stroke="#f2303f" stroke-width="1.4"/>
<path d="M572.40 244.8V261.8" stroke="#0c937b" stroke-width="0.9" opacity="0.5"/>
<path d="M572.40 245.6V255.3" stroke="#0c937b" stroke-width="1.4"/>
<path d="M574.60 225.5V246.5" stroke="#0c937b" stroke-width="0.9" opacity="0.5"/>
<path d="M574.60 228.4V243.6" stroke="#0c937b" stroke-width="1.4"/>
</g>
<g font-size="7" fill="#26282e" stroke="#26282e" stroke-width="0.12">
<text x="767" y="571.50" textLength="28.1" lengthAdjust="spacingAndGlyphs">2,500.000</text>
<text x="767" y="550.22" textLength="28.1" lengthAdjust="spacingAndGlyphs">2,600.000</text>
<text x="767" y="528.94" textLength="28.1" lengthAdjust="spacingAndGlyphs">2,700.000</text>
<text x="767" y="507.66" textLength="28.1" lengthAdjust="spacingAndGlyphs">2,800.000</text>
<text x="767" y="486.38" textLength="28.1" lengthAdjust="spacingAndGlyphs">2,900.000</text>
<text x="767" y="465.10" textLength="28.1" lengthAdjust="spacingAndGlyphs">3,000.000</text>
<text x="767" y="443.82" textLength="28.1" lengthAdjust="spacingAndGlyphs">3,100.000</text>
<text x="767" y="422.54" textLength="28.1" lengthAdjust="spacingAndGlyphs">3,200.000</text>
<text x="767" y="401.26" textLength="28.1" lengthAdjust="spacingAndGlyphs">3,300.000</text>
<text x="767" y="379.98" textLength="28.1" lengthAdjust="spacingAndGlyphs">3,400.000</text>
<text x="767" y="358.70" textLength="28.1" lengthAdjust="spacingAndGlyphs">3,500.000</text>
<text x="767" y="337.42" textLength="28.1" lengthAdjust="spacingAndGlyphs">3,600.000</text>
<text x="767" y="316.14" textLength="28.1" lengthAdjust="spacingAndGlyphs">3,700.000</text>
<text x="767" y="294.86" textLength="28.1" lengthAdjust="spacingAndGlyphs">3,800.000</text>
<text x="767" y="273.58" textLength="28.1" lengthAdjust="spacingAndGlyphs">3,900.000</text>
<text x="767" y="252.30" textLength="28.1" lengthAdjust="spacingAndGlyphs">4,000.000</text>
<text x="767" y="231.02" textLength="28.1" lengthAdjust="spacingAndGlyphs">4,100.000</text>
<text x="767" y="209.74" textLength="28.1" lengthAdjust="spacingAndGlyphs">4,200.000</text>
<text x="767" y="188.46" textLength="28.1" lengthAdjust="spacingAndGlyphs">4,300.000</text>
<text x="767" y="167.18" textLength="28.1" lengthAdjust="spacingAndGlyphs">4,400.000</text>
<text x="767" y="145.90" textLength="28.1" lengthAdjust="spacingAndGlyphs">4,500.000</text>
<text x="767" y="124.62" textLength="28.1" lengthAdjust="spacingAndGlyphs">4,600.000</text>
<text x="767" y="103.34" textLength="28.1" lengthAdjust="spacingAndGlyphs">4,700.000</text>
<text x="767" y="82.06" textLength="28.1" lengthAdjust="spacingAndGlyphs">4,800.000</text>
<text x="767" y="60.78" textLength="28.1" lengthAdjust="spacingAndGlyphs">4,900.000</text>
<text x="767" y="39.50" textLength="28.1" lengthAdjust="spacingAndGlyphs">5,000.000</text>
<text x="767" y="18.22" textLength="28.1" lengthAdjust="spacingAndGlyphs">5,100.000</text>
</g>
<g font-size="6.8" fill="#26282e" stroke="#26282e" stroke-width="0.2">
<text x="15.25" y="585" text-anchor="middle">Oct</text>
<text x="64.40" y="585" text-anchor="middle">Nov</text>
<text x="108.75" y="585" text-anchor="middle">Dec</text>
<text x="152.90" y="585" text-anchor="middle" font-weight="bold">2025</text>
<text x="198.10" y="585" text-anchor="middle">Feb</text>
<text x="240.60" y="585" text-anchor="middle">Mar</text>
<text x="284.80" y="585" text-anchor="middle">Apr</text>
<text x="328.75" y="585" text-anchor="middle">May</text>
<text x="374.40" y="585" text-anchor="middle">Jun</text>
<text x="418.50" y="585" text-anchor="middle">Jul</text>
<text x="466.80" y="585" text-anchor="middle">Aug</text>
<text x="510.90" y="585" text-anchor="middle">Sep</text>
<text x="557.10" y="585" text-anchor="middle">Oct</text>
<text x="605.40" y="585" text-anchor="middle">Nov</text>
<text x="647.40" y="585" text-anchor="middle">Dec</text>
<text x="695.70" y="585" text-anchor="middle" font-weight="bold">2026</text>
<text x="742.30" y="585" text-anchor="middle">Feb</text>
</g>
<!-- USD box -->
<rect x="763" y="0" width="37" height="15.2" fill="#fff"/>
<rect x="764.4" y="-3" width="33.8" height="16.2" rx="2" fill="#fff" stroke="#e0e3eb" stroke-width="0.8"/>
<text x="766.3" y="8.9" font-size="7.1" fill="#26282e" stroke="#26282e" stroke-width="0.2" textLength="10.6" lengthAdjust="spacingAndGlyphs">USD</text>
<path d="M793.1 6.5l1.25 1.2 1.25-1.2" stroke="#26282e" stroke-width="1" fill="none"/>
<!-- gear -->
<g transform="translate(781.6 583.3)" fill="none" stroke="#2e3036" stroke-width="0.8">
<path d="M-1.75 -3.03H1.75L3.5 0L1.75 3.03H-1.75L-3.5 0Z" stroke-linejoin="round"/>
<circle r="1.2"/>
</g>
<!-- header -->
<circle cx="7.5" cy="6.2" r="4.9" fill="#de9b10"/>
<path d="M6.5 3.9h2l.6 1.8H5.9zM4.8 6h2.2l.5 1.9H4.1zM8 6h2.2l.7 1.9H7.5z" fill="#fff"/>
<g font-size="8.2" fill="#33353b">
<text x="15" y="9.7" textLength="136.4" lengthAdjust="spacingAndGlyphs" stroke="#33353b" stroke-width="0.25">Gold Spot / U.S. Dollar · 1D · OANDA</text>
</g>
<circle cx="160.6" cy="6.3" r="4.6" fill="#d9f1ec"/>
<circle cx="160.6" cy="6.3" r="1.9" fill="#0e9a80"/>
<g font-size="7.8">
<text x="169.8" y="9.5" fill="#33353b" stroke="#33353b" stroke-width="0.2" textLength="4.2" lengthAdjust="spacingAndGlyphs">O</text><text x="175" y="9.5" fill="#1a9f88" stroke="#1a9f88" stroke-width="0.22" textLength="30.6" lengthAdjust="spacingAndGlyphs">4,112.470</text>
<text x="208.7" y="9.5" fill="#33353b" stroke="#33353b" stroke-width="0.2" textLength="4.2" lengthAdjust="spacingAndGlyphs">H</text><text x="213.8" y="9.5" fill="#1a9f88" stroke="#1a9f88" stroke-width="0.22" textLength="30.6" lengthAdjust="spacingAndGlyphs">4,114.150</text>
<text x="247.7" y="9.5" fill="#33353b" stroke="#33353b" stroke-width="0.2" textLength="3.2" lengthAdjust="spacingAndGlyphs">L</text><text x="251.5" y="9.5" fill="#1a9f88" stroke="#1a9f88" stroke-width="0.22" textLength="30.4" lengthAdjust="spacingAndGlyphs">4,110.905</text>
<text x="285.2" y="9.5" fill="#33353b" stroke="#33353b" stroke-width="0.2" textLength="3.7" lengthAdjust="spacingAndGlyphs">C</text><text x="289.8" y="9.5" fill="#1a9f88" stroke="#1a9f88" stroke-width="0.22" textLength="30.3" lengthAdjust="spacingAndGlyphs">4,113.640</text>
<text x="324.8" y="9.5" fill="#1a9f88" stroke="#1a9f88" stroke-width="0.22" textLength="19" lengthAdjust="spacingAndGlyphs">+3.305</text>
<text x="347.3" y="9.5" fill="#1a9f88" stroke="#1a9f88" stroke-width="0.22" textLength="25.8" lengthAdjust="spacingAndGlyphs">(+0.08%)</text>
</g>
<!-- TV logo -->
<g fill="#000">
<path d="M4.3 560.2H10.5V567.9H7.3V563.4H4.3Z"/>
<circle cx="13.1" cy="561.8" r="1.3"/>
<path d="M16.4 560.2H20.1L17.4 567.9H13.7Z"/>
</g>
<!-- drawn lines -->
<g stroke="#1e2b6b" stroke-width="1.4" fill="none">
<path d="M466.7 249.2H762"/>
<path d="M307.3 355.5L536.8 379.3"/>
<path d="M332.5 442.1L536.8 385.9"/>
</g>
<path d="M139.3 531.8L299.7 357.9M291.5 358.2L299.7 357.9L300.0 366.1" stroke="#16ad4c" stroke-width="1.5" fill="none" stroke-linejoin="miter"/>
<path d="M577.0 222.0L603.5 163.5M595.8 166.4L603.5 163.5L606.4 171.2" stroke="#16ad4c" stroke-width="1.4" fill="none" stroke-linejoin="miter"/>
<path d="M611.9 166.0L667.3 241.9M668.6 233.8L667.3 241.9L659.2 240.6" stroke="#ff1428" stroke-width="1.4" fill="none" stroke-linejoin="miter"/>
<path d="M670.6 230.3L742.3 56.2M734.7 59.4L742.3 56.2L745.5 63.8" stroke="#16ad4c" stroke-width="1.4" fill="none" stroke-linejoin="miter"/>
<!-- annotations -->
<g font-weight="bold" font-size="13.2">
<g fill="#16ad4c">
<text x="159.5" y="442.6" textLength="37" lengthAdjust="spacingAndGlyphs">+$900</text>
<text x="159.2" y="455.3" textLength="31.6" lengthAdjust="spacingAndGlyphs">move</text>
<text x="493.2" y="297.6" textLength="37" lengthAdjust="spacingAndGlyphs">+$900</text>
<text x="492.9" y="310.5" textLength="31.6" lengthAdjust="spacingAndGlyphs">move</text>
<text x="585.2" y="145.6" textLength="41.3" lengthAdjust="spacingAndGlyphs">$4,400</text>
<text x="585" y="158.1" textLength="35.6" lengthAdjust="spacingAndGlyphs">target</text>
<text x="740.8" y="49.9" font-size="24" textLength="8.6" lengthAdjust="spacingAndGlyphs" stroke="#16ad4c" stroke-width="0.5">?</text>
</g>
<text x="595.6" y="219" fill="#ff1428" textLength="44.4" lengthAdjust="spacingAndGlyphs">re-test?</text>
<g fill="#1b2563">
<text x="381.3" y="442.6" textLength="45.2" lengthAdjust="spacingAndGlyphs">triangle</text>
<text x="595.6" y="263.8" textLength="91.3" lengthAdjust="spacingAndGlyphs">$4,000 (former</text>
<text x="595.6" y="276.8" textLength="94.4" lengthAdjust="spacingAndGlyphs">resistance, now</text>
<text x="595.6" y="289.4" textLength="49.4" lengthAdjust="spacingAndGlyphs">support)</text>
</g>
</g>
</svg>
</body></html>
